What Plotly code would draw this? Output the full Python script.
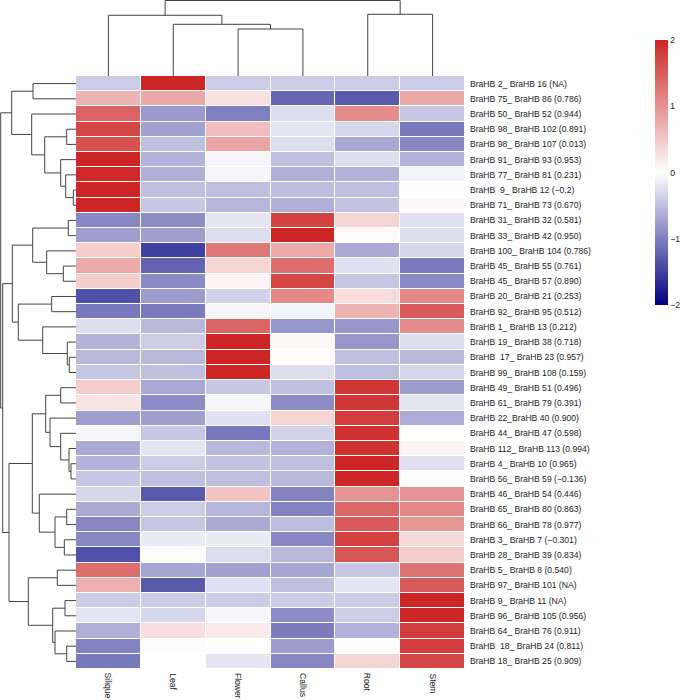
import plotly.graph_objects as go

W, H = 685, 700

samples = ['Silique', 'Leaf', 'Flower', 'Callus', 'Root', 'Stem']

pairs = [
    'BraHB 2_ BraHB 16 (NA)', 'BraHB 75_ BraHB 86 (0.786)', 'BraHB 50_ BraHB 52 (0.944)',
    'BraHB 98_ BraHB 102 (0.891)', 'BraHB 98_ BraHB 107 (0.013)', 'BraHB 91_ BraHB 93 (0.953)',
    'BraHB 77_ BraHB 81 (0.231)', 'BraHB  9_ BraHB 12 (−0.2)', 'BraHB 71_ BraHB 73 (0.670)',
    'BraHB 31_ BraHB 32 (0.581)', 'BraHB 33_ BraHB 42 (0.950)', 'BraHB 100_ BraHB 104 (0.786)',
    'BraHB 45_ BraHB 55 (0.761)', 'BraHB 45_ BraHB 57 (0.890)', 'BraHB 20_ BraHB 21 (0.253)',
    'BraHB 92_ BraHB 95 (0.512)', 'BraHB 1_ BraHB 13 (0.212)', 'BraHB 19_ BraHB 38 (0.718)',
    'BraHB  17_ BraHB 23 (0.957)', 'BraHB 99_ BraHB 108 (0.159)', 'BraHB 49_ BraHB 51 (0.496)',
    'BraHB 61_ BraHB 79 (0.391)', 'BraHB 22_BraHB 40 (0.900)', 'BraHB 44_ BraHB 47 (0.598)',
    'BraHB 112_ BraHB 113 (0.994)', 'BraHB 4_ BraHB 10 (0.965)', 'BraHB 56_ BraHB 59 (−0.136)',
    'BraHB 46_ BraHB 54 (0.446)', 'BraHB 65_ BraHB 80 (0.863)', 'BraHB 66_ BraHB 78 (0.977)',
    'BraHB 3_ BraHB 7 (−0.301)', 'BraHB 28_ BraHB 39 (0.834)', 'BraHB 5_ BraHB 8 (0.540)',
    'BraHB 97_ BraHB 101 (NA)', 'BraHB 9_ BraHB 11 (NA)', 'BraHB 96_ BraHB 105 (0.956)',
    'BraHB 64_ BraHB 76 (0.911)', 'BraHB  18_ BraHB 24 (0.811)', 'BraHB 18_ BraHB 25 (0.909)',
]

# scaled expression, one row per gene pair (Silique, Leaf, Flower, Callus, Root, Stem)
expr = [
    [-0.40, 2.00, -0.40, -0.40, -0.40, -0.40],
    [0.70, 0.80, 0.28, -1.20, -1.30, 0.80],
    [1.45, -0.80, -1.00, -0.27, 1.06, -0.43],
    [1.70, -0.73, 0.60, -0.20, -0.31, -1.06],
    [1.60, -0.50, 0.83, -0.27, -0.67, -0.94],
    [2.00, -0.60, -0.08, -0.50, -0.26, -0.60],
    [1.98, -0.63, -0.08, -0.63, -0.60, -0.10],
    [2.00, -0.50, -0.50, -0.52, -0.50, 0.03],
    [2.00, -0.43, -0.57, -0.63, -0.47, 0.06],
    [-0.94, -0.90, -0.20, 1.75, 0.40, -0.24],
    [-0.75, -0.75, -0.27, 2.00, 0.05, -0.27],
    [0.46, -1.50, 1.25, 0.78, -0.67, -0.31],
    [0.78, -1.22, 0.40, 1.34, -0.24, -1.04],
    [0.46, -0.92, 0.09, 1.70, -0.45, -0.92],
    [-1.37, -0.78, -0.35, 1.10, 0.32, 1.10],
    [-1.06, -1.04, -0.08, -0.10, 0.70, 1.52],
    [-0.26, -0.55, 1.43, -0.82, -0.82, 1.06],
    [-0.59, -0.40, 2.00, 0.06, -0.82, -0.26],
    [-0.55, -0.55, 2.00, 0.05, -0.50, -0.55],
    [-0.45, -0.50, 2.00, -0.27, -0.51, -0.31],
    [0.46, -0.68, -0.43, -0.50, 1.85, -0.78],
    [0.25, -0.90, -0.08, -0.90, 1.85, -0.21],
    [-0.75, -0.75, -0.24, 0.40, 1.80, -0.65],
    [-0.08, -0.43, -1.06, -0.35, 1.90, 0.02],
    [-0.67, -0.21, -0.55, -0.60, 1.90, 0.10],
    [-0.59, -0.40, -0.47, -0.50, 2.00, -0.24],
    [-0.43, -0.50, -0.50, -0.55, 2.00, -0.02],
    [-0.31, -1.30, 0.55, -0.98, 1.00, 1.00],
    [-0.67, -0.40, -0.57, -0.98, 1.40, 1.10],
    [-0.94, -0.45, -0.67, -0.52, 1.52, 0.97],
    [-0.94, -0.16, -0.16, -0.94, 1.75, 0.34],
    [-1.37, 0.04, -0.27, -0.55, 1.57, 0.46],
    [1.34, -0.70, -0.73, -0.70, -0.43, 1.30],
    [0.74, -1.30, -0.24, -0.50, -0.21, 1.52],
    [-0.40, -0.40, -0.40, -0.40, -0.40, 2.00],
    [-0.21, -0.31, -0.08, -0.90, -0.40, 2.00],
    [-0.63, 0.30, 0.20, -1.02, -0.59, 1.80],
    [-0.98, 0.04, 0.00, -0.78, 0.00, 1.80],
    [-1.07, 0.00, -0.20, -0.94, 0.40, 1.70],
]

# linkage tables: (left, right, height); ids >= n refer to earlier merges
col_merges = [(2, 3, 4.70), (1, 6, 5.17), (0, 7, 6.07), (4, 5, 6.17), (8, 9, 7.55)]

row_merges = [
    (7, 8, 0.27), (25, 26, 0.50), (18, 19, 0.67), (24, 40, 0.70), (9, 10, 0.77),
    (17, 41, 0.87), (3, 4, 0.93), (28, 29, 0.93), (37, 38, 0.93), (6, 39, 1.03),
    (34, 35, 1.10), (30, 31, 1.17), (12, 13, 1.27), (5, 48, 1.53), (20, 21, 1.53),
    (23, 42, 1.53), (32, 33, 1.87), (46, 50, 2.10), (36, 47, 2.10), (49, 57, 2.33),
    (14, 15, 2.43), (22, 54, 2.60), (11, 51, 2.93), (53, 60, 3.03), (45, 52, 3.13),
    (16, 44, 3.33), (27, 56, 3.67), (0, 1, 4.30), (43, 61, 4.33), (62, 65, 4.37),
    (2, 63, 4.43), (55, 58, 4.77), (59, 64, 5.77), (67, 71, 6.37), (66, 69, 6.43),
    (68, 70, 6.70), (72, 74, 7.33), (73, 75, 7.53),
]


def dendro_lines(merges, n):
    """Turn a linkage table into elbow line coordinates (position, height)."""
    pos = {i: float(i) for i in range(n)}
    hgt = {i: 0.0 for i in range(n)}
    p, h = [], []
    for k, (a, b, d) in enumerate(merges):
        p += [pos[a], pos[a], pos[b], pos[b], None]
        h += [hgt[a], d, d, hgt[b], None]
        pos[n + k] = (pos[a] + pos[b]) / 2
        hgt[n + k] = d
    return p, h


# pixel layout of the reference
hm_x0, hm_x1 = 76, 465
hm_y0, hm_y1 = 76, 669
xdom = [hm_x0 / W, hm_x1 / W]
ydom = [1 - hm_y1 / H, 1 - hm_y0 / H]
nrow, ncol = len(pairs), len(samples)
line_style = dict(color='#444444', width=1)
font = 'Liberation Sans, Arial, sans-serif'
fsize = 8.6

fig = go.Figure()

fig.add_trace(go.Heatmap(
    z=expr, x=list(range(ncol)), y=list(range(nrow)),
    colorscale=[[0, '#000080'], [0.5, '#ffffff'], [1, '#cd2626']],
    zmin=-2, zmax=2, xgap=1, ygap=1, hoverongaps=False,
    colorbar=dict(
        x=655 / W, xanchor='left', y=1 - 40 / H, yanchor='top',
        xpad=0, ypad=0, lenmode='pixels', len=265, thickness=13, outlinewidth=0,
        tickvals=[-2, -1, 0, 1, 2], ticks='', ticklabelposition='outside',
        tickfont=dict(family=font, size=fsize, color='#222'),
    ),
))

cx, cy = dendro_lines(col_merges, ncol)
fig.add_trace(go.Scatter(x=cx, y=cy, mode='lines', line=line_style,
                         xaxis='x2', yaxis='y2', hoverinfo='skip', showlegend=False))

ry, rx = dendro_lines(row_merges, nrow)
fig.add_trace(go.Scatter(x=rx, y=ry, mode='lines', line=line_style,
                         xaxis='x3', yaxis='y3', hoverinfo='skip', showlegend=False))

# column names, rotated and hanging just under the heatmap
for i, name in enumerate(samples):
    fig.add_annotation(x=i, xref='x', y=1 - (hm_y1 + 3) / H, yref='paper',
                       yanchor='top', text=name, textangle=90, showarrow=False,
                       borderpad=0, font=dict(family=font, size=fsize, color='#222'))

hidden = dict(visible=False, showgrid=False, zeroline=False)
fig.update_layout(
    width=W, height=H,
    margin=dict(l=0, r=0, t=0, b=0, autoexpand=False),
    paper_bgcolor='white', plot_bgcolor='white',
    font=dict(family=font, size=fsize, color='#222'),
    xaxis=dict(domain=xdom, range=[-0.5, ncol - 0.5], showticklabels=False, ticks='',
               showgrid=False, zeroline=False, automargin=False, anchor='y'),
    yaxis=dict(domain=ydom, range=[nrow - 0.5, -0.5], tickvals=list(range(nrow)),
               ticktext=pairs, side='right', ticks='', showgrid=False,
               zeroline=False, automargin=False, anchor='x', ticklabelstandoff=4),
    xaxis2=dict(domain=xdom, range=[-0.5, ncol - 0.5], anchor='y2', **hidden),
    yaxis2=dict(domain=[1 - hm_y0 / H, 1], range=[0, 7.6], anchor='x2', **hidden),
    xaxis3=dict(domain=[0, hm_x0 / W], range=[7.6, 0], anchor='y3', **hidden),
    yaxis3=dict(domain=ydom, range=[nrow - 0.5, -0.5], anchor='x3', **hidden),
)

# the page's default body margin would push the figure 8px off the window
fig.write_html("out.html", config={'displayModeBar': False},
               post_script="document.body.style.margin = '0';")
